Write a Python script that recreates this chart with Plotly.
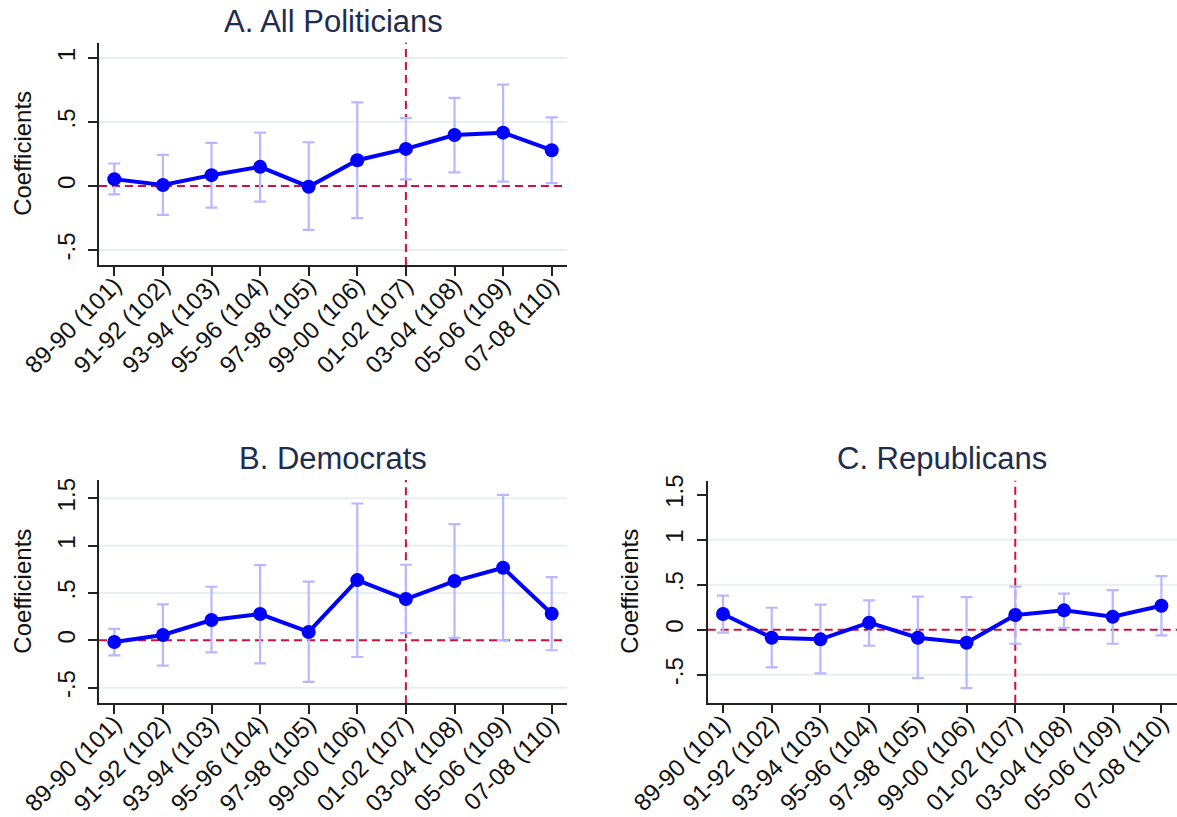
import plotly.graph_objects as go

categories = ["89-90 (101)", "91-92 (102)", "93-94 (103)", "95-96 (104)", "97-98 (105)",
              "99-00 (106)", "01-02 (107)", "03-04 (108)", "05-06 (109)", "07-08 (110)"]
break_category = "01-02 (107)"

a_coef = [0.054, 0.008, 0.085, 0.150, -0.005, 0.202, 0.290, 0.399, 0.417, 0.280]
a_hi = [0.176, 0.244, 0.337, 0.417, 0.342, 0.653, 0.531, 0.689, 0.793, 0.536]
a_lo = [-0.065, -0.225, -0.168, -0.122, -0.342, -0.251, 0.052, 0.106, 0.034, 0.023]

b_coef = [-0.018, 0.056, 0.214, 0.278, 0.088, 0.636, 0.436, 0.626, 0.766, 0.281]
b_hi = [0.120, 0.380, 0.566, 0.794, 0.619, 1.445, 0.798, 1.227, 1.536, 0.668]
b_lo = [-0.158, -0.267, -0.127, -0.243, -0.439, -0.176, 0.077, 0.025, 0.000, -0.105]

c_coef = [0.174, -0.089, -0.107, 0.078, -0.089, -0.144, 0.163, 0.215, 0.144, 0.267]
c_hi = [0.378, 0.244, 0.278, 0.326, 0.367, 0.363, 0.478, 0.400, 0.441, 0.596]
c_lo = [-0.033, -0.419, -0.485, -0.178, -0.537, -0.648, -0.156, 0.022, -0.156, -0.063]

titles = ["A. All Politicians", "B. Democrats", "C. Republicans"]
ytitle = "Coefficients"

yticks_a = [-0.5, 0, 0.5, 1]
yticktext_a = ["-.5", "0", ".5", "1"]
yticks_bc = [-0.5, 0, 0.5, 1, 1.5]
yticktext_bc = ["-.5", "0", ".5", "1", "1.5"]
grid_a = [-0.5, 0.5, 1]
grid_b = [-0.5, 0.5, 1, 1.5]
grid_c = [-0.5, 0.5, 1]

W, H = 1177, 817
FONT = "Liberation Sans, Arial, Helvetica, sans-serif"
BLUE = "#0000ff"
ERR = "#b8b8ff"
RED = "#d01040"
GRID = "#e8eff1"
TITLE_C = "#1e2d4d"

def px_x(v):
    return v / W

def px_y(v):
    return 1 - v / H

panels = [
    dict(coef=a_coef, hi=a_hi, lo=a_lo, xd=[99, 567], yd=[42.7, 265], yr=[-0.617, 1.12],
         xr=[-0.315, 9.315], tv=yticks_a, tt=yticktext_a, grid=grid_a, tx=333, ty=21, atx=23),
    dict(coef=b_coef, hi=b_hi, lo=b_lo, xd=[99, 567], yd=[480, 703.3], yr=[-0.665, 1.693],
         xr=[-0.315, 9.315], tv=yticks_bc, tt=yticktext_bc, grid=grid_b, tx=333, ty=459, atx=23),
    dict(coef=c_coef, hi=c_hi, lo=c_lo, xd=[707.7, 1177], yd=[480.7, 702.7], yr=[-0.811, 1.656],
         xr=[-0.314, 9.32], tv=yticks_bc, tt=yticktext_bc, grid=grid_c, tx=942, ty=459, atx=630),
]

fig = go.Figure()
shapes = []
annotations = []

for i, p in enumerate(panels):
    n = "" if i == 0 else str(i + 1)
    xa, ya = "x" + n, "y" + n
    plus = [h - c for h, c in zip(p["hi"], p["coef"])]
    minus = [c - l for c, l in zip(p["coef"], p["lo"])]
    fig.add_trace(go.Scatter(
        x=categories, y=p["coef"], xaxis=xa, yaxis=ya, mode="lines+markers",
        line=dict(color=BLUE, width=4), marker=dict(color=BLUE, size=14),
        error_y=dict(type="data", array=plus, arrayminus=minus, color=ERR, thickness=2.2, width=6),
        showlegend=False, cliponaxis=False,
    ))
    axis_common = dict(showline=True, linecolor="#222222", linewidth=1.5, ticks="outside",
                       ticklen=9, tickwidth=1.5, tickcolor="#222222", zeroline=False,
                       automargin=False, showgrid=False,
                       tickfont=dict(family=FONT, size=24, color="#111111"))
    fig.update_layout(**{
        ("xaxis" + n): dict(domain=[px_x(p["xd"][0]), px_x(p["xd"][1])], anchor=ya,
                            type="category", categoryorder="array", categoryarray=categories,
                            range=p["xr"], tickangle=-45, ticklabelstandoff=-14,
                            **axis_common),
        ("yaxis" + n): dict(domain=[px_y(p["yd"][1]), px_y(p["yd"][0])], anchor=xa,
                            range=p["yr"], tickmode="array", tickvals=p["tv"], ticktext=p["tt"],
                            tickangle=-90, ticklabelstandoff=4, **axis_common),
    })
    for g in p["grid"]:
        shapes.append(dict(type="line", xref=xa + " domain", yref=ya, x0=0, x1=1, y0=g, y1=g,
                           line=dict(color=GRID, width=2), layer="below"))
    shapes.append(dict(type="line", xref=xa + " domain", yref=ya, x0=0, x1=1, y0=0, y1=0,
                       line=dict(color=RED, width=2, dash="8px,5px"), layer="below"))
    shapes.append(dict(type="line", xref=xa, yref=ya + " domain", x0=break_category,
                       x1=break_category, y0=0, y1=1,
                       line=dict(color=RED, width=2, dash="8px,5px"), layer="below"))
    annotations.append(dict(text=titles[i], xref="paper", yref="paper", x=px_x(p["tx"]),
                            y=px_y(p["ty"]), xanchor="center", yanchor="middle", showarrow=False,
                            font=dict(family=FONT, size=31, color=TITLE_C)))
    annotations.append(dict(text=ytitle, xref="paper", yref="paper", x=px_x(p["atx"]),
                            y=px_y((p["yd"][0] + p["yd"][1]) / 2), xanchor="center",
                            yanchor="middle", textangle=-90, showarrow=False,
                            font=dict(family=FONT, size=24, color="#111111")))

fig.update_layout(width=W, height=H, margin=dict(l=0, r=0, t=0, b=0),
                  paper_bgcolor="white", plot_bgcolor="white",
                  shapes=shapes, annotations=annotations)

fig.write_html("out.html", config={"displayModeBar": False},
               post_script="document.body.style.margin='0px';")
